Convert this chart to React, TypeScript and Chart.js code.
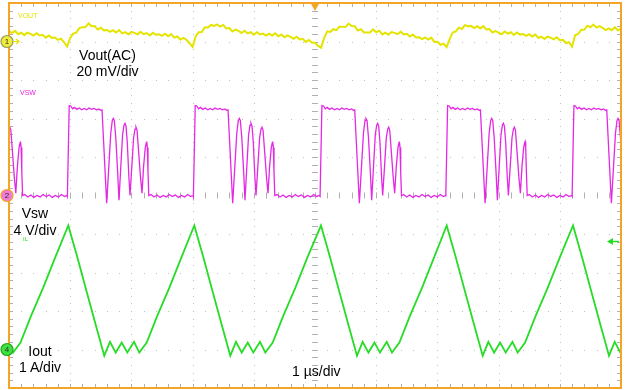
import React, { useEffect, useRef } from "react";
import { Chart, registerables } from "chart.js";

Chart.register(...registerables);

// ---- Data ----
// Time axis: 10 divisions, 1 µs/div
const TIME_MIN_US = 0;
const TIME_MAX_US = 10;

// Switching edges (Vsw rising edge = Iout peak), µs
const SW_EDGES_US = [-1.093, 0.969, 3.028, 5.098, 7.152, 9.216];

// One Vsw cycle relative to its rising edge (µs) and volts (4 V/div)
const VSW_PHASE_US = [
  -0.015, 0.015, 0.04, 0.07, 0.1, 0.14, 0.18, 0.22, 0.26, 0.3, 0.34, 0.38, 0.42, 0.46, 0.5, 0.53, 0.551,
  0.627, 0.662, 0.694, 0.719, 0.735, 0.752, 0.776, 0.806, 0.828, 0.858, 0.887, 0.91, 0.926, 0.943, 0.964,
  0.989, 1.008, 1.038, 1.067, 1.09, 1.106, 1.123, 1.144, 1.181, 1.204, 1.23, 1.258, 1.275, 1.281, 1.291,
  1.302, 1.315, 1.35, 1.4, 1.45, 1.5, 1.55, 1.6, 1.65, 1.7, 1.75, 1.8, 1.85, 1.9, 1.95, 2.0, 2.04,
];
const VSW_VOLTS = [
  -0.1, 9.35, 9.3, 9.0, 9.15, 8.95, 9.1, 8.9, 9.05, 8.9, 9.1, 8.95, 9.05, 8.9, 9.0, 8.85, 8.9,
  -0.8, 3.0, 6.5, 7.8, 8.0, 7.8, 6.0, 2.5, -0.5, 3.0, 6.3, 7.3, 7.5, 7.2, 5.5,
  2.0, 0.0, 3.0, 6.0, 6.9, 7.1, 6.8, 5.0, 1.8, 0.25, 3.0, 5.0, 5.5, 5.6, 5.0,
  2.5, 0.0, 0.1, -0.15, 0.05, -0.2, 0.0, -0.15, 0.1, -0.1, 0.05, -0.2, 0.0, -0.15, 0.1, -0.1, 0.0,
];

// One inductor-current cycle relative to its peak (µs) and amps (1 A/div)
const IOUT_PHASE_US = [0, 0.15, 0.3, 0.45, 0.588, 0.681, 0.775, 0.873, 0.964, 1.074, 1.16, 1.281, 1.45, 1.65, 1.85];
const IOUT_AMPS = [3.22, 2.38, 1.5, 0.63, -0.16, 0.2, -0.08, 0.18, -0.08, 0.2, -0.08, 0.18, 0.86, 1.6, 2.4];

// Vout (AC) sampled every 0.05 µs, mV (20 mV/div)
const VOUT_STEP_US = 0.05;
const VOUT_MV = [
  5.5, 4.4, 5.5, 3.8, 4.6, 3.3, 4.6, 4.0, 3.1, 4.3, 3.1, 3.5, 2.0, 3.1, 1.9, 2.1, 0.8, 1.5, -0.4, -2.6,
  1.8, 4.1, 4.6, 7.0, 7.4, 7.5, 9.4, 7.9, 8.0, 6.2, 7.1, 5.8, 6.0, 5.0, 5.9, 4.7, 5.9, 4.2, 4.9, 3.7,
  5.0, 4.5, 3.7, 5.0, 3.8, 4.4, 3.1, 4.5, 3.5, 3.8, 2.9, 4.0, 2.7, 3.8, 2.0, 2.6, 1.0, 1.9, 0.9, -0.9,
  -2.8, 2.6, 4.8, 4.9, 7.4, 7.3, 8.6, 8.1, 8.9, 7.7, 8.6, 6.8, 7.0, 5.2, 6.2, 5.5, 4.4, 5.6, 4.2, 4.8,
  3.5, 4.8, 3.7, 4.1, 3.1, 4.1, 3.1, 4.3, 2.7, 3.6, 2.2, 3.2, 2.4, 1.4, 2.5, 1.1, 1.4, -0.2, 0.8, -0.6,
  -0.7, -2.3, -3.2, 1.9, 5.3, 5.0, 6.4, 5.9, 7.8, 7.6, 7.5, 9.3, 8.0, 7.9, 5.7, 6.4, 4.7, 4.7, 4.7, 6.3,
  4.8, 5.6, 3.7, 4.6, 3.5, 4.9, 4.5, 3.8, 5.1, 3.7, 4.0, 2.6, 3.6, 2.1, 2.2, 1.2, 2.1, 1.0, 2.0, -0.2,
  -0.1, -1.7, -1.1, -2.9, 1.2, 4.7, 5.2, 7.2, 6.5, 8.5, 7.9, 8.1, 7.0, 8.0, 6.8, 8.0, 6.3, 6.5, 4.7, 5.4,
  4.6, 3.8, 5.2, 4.1, 4.8, 3.4, 4.7, 3.6, 3.9, 2.9, 3.8, 2.6, 3.6, 1.8, 2.5, 1.3, 2.5, 2.0, 1.1, 2.2,
  0.7, 0.9, -0.8, -0.3, -2.7, 3.2, 3.9, 6.1, 6.1, 8.2, 7.4, 8.8, 7.2, 8.0, 7.1, 5.9, 6.8, 5.9, 7.4, 5.7,
  6.7,
];

// Vertical scale ranges (10 divisions each, channel grounds at +4, 0, -4 div)
const VOUT_RANGE_MV = [-180, 20];
const VSW_RANGE_V = [-20, 20];
const IOUT_RANGE_A = [-1, 9];
const TRIGGER_LEVEL_A = 2.82;

const ORANGE = "#f4a526";
const YELLOW = "#e4e400";
const MAGENTA = "#e428e4";
const GREEN = "#27dc27";

const vswData = SW_EDGES_US.flatMap((e) => VSW_PHASE_US.map((p, i) => ({ x: e + p, y: VSW_VOLTS[i] })));
const ioutData = SW_EDGES_US.flatMap((e) => IOUT_PHASE_US.map((p, i) => ({ x: e + p, y: IOUT_AMPS[i] })));
const voutData = VOUT_MV.map((v, i) => ({ x: TIME_MIN_US + i * VOUT_STEP_US, y: v }));

const scopePlugin = {
  id: "scopeGraticule",
  beforeDatasetsDraw(chart: any) {
    const { ctx, chartArea } = chart;
    const { left, right, top, bottom } = chartArea;
    const dx = (right - left) / 10;
    const dy = (bottom - top) / 10;
    ctx.save();
    ctx.fillStyle = "#c2c2c2";
    for (let i = 1; i < 10; i++) {
      const x = Math.round(left + i * dx);
      for (let k = 1; k < 50; k++) ctx.fillRect(x, Math.round(top + (k * dy) / 5), 1, 1);
    }
    for (let j = 1; j < 10; j++) {
      const y = Math.round(top + j * dy);
      for (let k = 1; k < 50; k++) ctx.fillRect(Math.round(left + (k * dx) / 5), y, 1, 1);
    }
    const cx = left + 5 * dx;
    const cy = top + 5 * dy;
    ctx.strokeStyle = "#b0b0b0";
    ctx.lineWidth = 1;
    ctx.beginPath();
    for (let k = 1; k < 50; k++) {
      const x = Math.round(left + (k * dx) / 5) + 0.5;
      ctx.moveTo(x, top);
      ctx.lineTo(x, top + 4);
      ctx.moveTo(x, bottom);
      ctx.lineTo(x, bottom - 4);
      ctx.moveTo(x, cy - 3);
      ctx.lineTo(x, cy + 3);
      const y = Math.round(top + (k * dy) / 5) + 0.5;
      ctx.moveTo(left, y);
      ctx.lineTo(left + 4, y);
      ctx.moveTo(right, y);
      ctx.lineTo(right - 4, y);
      ctx.moveTo(cx - 3, y);
      ctx.lineTo(cx + 3, y);
    }
    ctx.stroke();
    ctx.restore();
  },
  afterDatasetsDraw(chart: any) {
    const { ctx, chartArea, scales } = chart;
    const { left, right, top, bottom } = chartArea;
    const cx = (left + right) / 2;
    ctx.save();
    // frame
    ctx.strokeStyle = ORANGE;
    ctx.lineWidth = 2;
    ctx.strokeRect(left, top, right - left, bottom - top);
    // trigger position marker
    ctx.fillStyle = ORANGE;
    ctx.beginPath();
    ctx.moveTo(cx - 5, top - 1);
    ctx.lineTo(cx + 5, top - 1);
    ctx.lineTo(cx, top + 8);
    ctx.closePath();
    ctx.fill();
    // trigger level arrow
    const ty = Math.round(scales.yI.getPixelForValue(TRIGGER_LEVEL_A)) + 0.5;
    ctx.strokeStyle = GREEN;
    ctx.fillStyle = GREEN;
    ctx.lineWidth = 1.5;
    ctx.beginPath();
    ctx.moveTo(right - 9, ty);
    ctx.lineTo(right - 2, ty);
    ctx.stroke();
    ctx.beginPath();
    ctx.moveTo(right - 14, ty);
    ctx.lineTo(right - 8, ty - 3.5);
    ctx.lineTo(right - 8, ty + 3.5);
    ctx.closePath();
    ctx.fill();
    // channel ground markers
    const markers = [
      { y: scales.yVout.getPixelForValue(0), fill: "#eded3a", stroke: "#9a9a5a" },
      { y: scales.ySw.getPixelForValue(0), fill: "#f07ad8", stroke: ORANGE },
      { y: scales.yI.getPixelForValue(0), fill: "#3ee03e", stroke: "#22a822" },
    ];
    markers.forEach((m, idx) => {
      ctx.beginPath();
      ctx.arc(left - 2, m.y, 6, 0, Math.PI * 2);
      ctx.fillStyle = m.fill;
      ctx.fill();
      ctx.lineWidth = 1.2;
      ctx.strokeStyle = m.stroke;
      ctx.stroke();
      if (idx === 0) {
        ctx.strokeStyle = YELLOW;
        ctx.lineWidth = 1.2;
        ctx.beginPath();
        ctx.moveTo(left + 4, m.y);
        ctx.lineTo(left + 10, m.y);
        ctx.moveTo(left + 7, m.y - 2.5);
        ctx.lineTo(left + 10, m.y);
        ctx.lineTo(left + 7, m.y + 2.5);
        ctx.stroke();
      }
    });
    ctx.restore();
  },
};

const FONT = '"Liberation Sans", Arial, sans-serif';

function Label(props: {
  left: number;
  top: number;
  width?: number;
  lines: string[];
  size?: number;
  lh?: number;
  color?: string;
  align?: "left" | "center";
}) {
  const { left, top, width, lines, size = 14, lh = 16, color = "#000", align = "left" } = props;
  return (
    <div
      style={{
        position: "absolute",
        left,
        top,
        width,
        fontFamily: FONT,
        fontSize: size,
        lineHeight: `${lh}px`,
        color,
        textAlign: align,
        whiteSpace: "pre",
        pointerEvents: "none",
      }}
    >
      {lines.map((l, i) => (
        <div key={i}>{l}</div>
      ))}
    </div>
  );
}

export default function App() {
  const ref = useRef<HTMLCanvasElement>(null);

  useEffect(() => {
    if (!ref.current) return;
    const chart = new Chart(ref.current, {
      type: "scatter",
      data: {
        datasets: [
          {
            label: "Vout",
            data: voutData,
            yAxisID: "yVout",
            showLine: true,
            borderColor: YELLOW,
            borderWidth: 2,
            pointRadius: 0,
            tension: 0,
          },
          {
            label: "Vsw",
            data: vswData,
            yAxisID: "ySw",
            showLine: true,
            borderColor: MAGENTA,
            borderWidth: 1.3,
            pointRadius: 0,
            tension: 0,
          },
          {
            label: "Iout",
            data: ioutData,
            yAxisID: "yI",
            showLine: true,
            borderColor: GREEN,
            borderWidth: 1.8,
            pointRadius: 0,
            tension: 0,
          },
        ],
      },
      options: {
        animation: false,
        responsive: false,
        events: [],
        layout: { padding: { left: 9, top: 3, right: 4, bottom: 2 } },
        plugins: { legend: { display: false }, tooltip: { enabled: false } },
        scales: {
          x: { type: "linear", min: TIME_MIN_US, max: TIME_MAX_US, display: false },
          yVout: { type: "linear", min: VOUT_RANGE_MV[0], max: VOUT_RANGE_MV[1], display: false },
          ySw: { type: "linear", min: VSW_RANGE_V[0], max: VSW_RANGE_V[1], display: false },
          yI: { type: "linear", min: IOUT_RANGE_A[0], max: IOUT_RANGE_A[1], display: false },
        },
      },
      plugins: [scopePlugin],
    });
    return () => chart.destroy();
  }, []);

  return (
    <div
      style={{
        position: "fixed",
        left: 0,
        top: 0,
        width: 625,
        height: 390,
        background: "#fff",
        overflow: "hidden",
      }}
    >
      <canvas ref={ref} width={625} height={390} style={{ position: "absolute", left: 0, top: 0, width: 625, height: 390 }} />
      <Label left={18} top={12} lines={["VOUT"]} size={7} lh={8} color={YELLOW} />
      <Label left={20} top={89} lines={["VSW"]} size={7} lh={8} color={MAGENTA} />
      <Label left={23} top={236} lines={["IL"]} size={6} lh={7} color={GREEN} />
      <Label left={57.5} top={47} width={100} align="center" lines={["Vout(AC)", "20 mV/div"]} />
      <Label left={-15} top={205} width={100} lh={17} align="center" lines={["Vsw", "4 V/div"]} />
      <Label left={-10} top={343} width={100} align="center" lines={["Iout", "1 A/div"]} />
      <Label left={292} top={363} lines={["1 µs/div"]} />
      <Label left={1} top={36} width={12} size={8} lh={11} align="center" lines={["1"]} color="#333" />
      <Label left={1} top={190} width={12} size={8} lh={11} align="center" lines={["2"]} color="#333" />
      <Label left={1} top={344} width={12} size={8} lh={11} align="center" lines={["4"]} color="#333" />
    </div>
  );
}
